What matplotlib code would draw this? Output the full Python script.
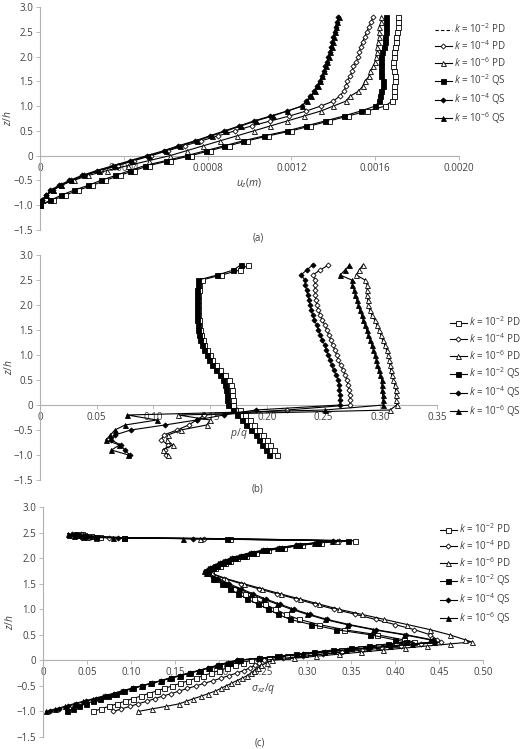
import matplotlib
matplotlib.use("Agg")
import matplotlib.pyplot as plt
from matplotlib.lines import Line2D
from matplotlib.ticker import FuncFormatter

plt.rcParams['font.family'] = ['Open Sans', 'DejaVu Sans']
plt.rcParams['mathtext.fontset'] = 'custom'
plt.rcParams['mathtext.rm'] = 'Open Sans'
plt.rcParams['mathtext.it'] = 'Open Sans:italic'

# ---------------- data ----------------
series_labels = [r'$k$ = 10$^{-2}$ PD', r'$k$ = 10$^{-4}$ PD', r'$k$ = 10$^{-6}$ PD',
                 r'$k$ = 10$^{-2}$ QS', r'$k$ = 10$^{-4}$ QS', r'$k$ = 10$^{-6}$ QS']

# depth grid shared by panels (a) and (b)
z_ab = [-1.0, -0.9, -0.8, -0.7, -0.6, -0.5, -0.4, -0.3, -0.2, -0.1,
        0.0, 0.1, 0.2, 0.3, 0.4, 0.5, 0.6, 0.7, 0.8, 0.9,
        1.0, 1.1, 1.2, 1.3, 1.4, 1.5, 1.6, 1.7, 1.8, 1.9,
        2.0, 2.1, 2.2, 2.3, 2.4, 2.5, 2.6, 2.7, 2.8]

# (a) vertical displacement u_z (m)
uz_pd2 = [0.0, 0.00006, 0.00012, 0.00018, 0.00025, 0.00031, 0.00038, 0.00045, 0.00052, 0.00062,
          0.00072, 0.00081, 0.0009, 0.00099, 0.00109, 0.0012, 0.00129, 0.00138, 0.00147, 0.00156,
          0.001647, 0.00168, 0.001688, 0.00169, 0.001692, 0.001694, 0.001695, 0.00169, 0.001687, 0.001687,
          0.00169, 0.001692, 0.001695, 0.0017, 0.0017, 0.001705, 0.001708, 0.00171, 0.00171]
uz_pd4 = [0.0, 0.00001, 0.00003, 0.00006, 0.0001, 0.00015, 0.00021, 0.00029, 0.00037, 0.00045,
          0.00053, 0.00061, 0.00069, 0.00077, 0.00085, 0.00093, 0.00101, 0.0011, 0.00119, 0.00127,
          0.00134, 0.0014, 0.00143, 0.00145, 0.00146, 0.001465, 0.00148, 0.00149, 0.001495, 0.00151,
          0.00152, 0.001525, 0.00153, 0.00154, 0.00155, 0.00156, 0.00157, 0.00158, 0.00159]
uz_pd6 = [0.0, 0.00001, 0.00003, 0.00006, 0.0001, 0.00016, 0.00023, 0.00032, 0.00042, 0.00052,
          0.00062, 0.0007, 0.00078, 0.00086, 0.00094, 0.00102, 0.0011, 0.00118, 0.00126, 0.00134,
          0.0014, 0.00146, 0.00148, 0.00152, 0.00154, 0.00155, 0.00157, 0.001575, 0.00159, 0.0016,
          0.001605, 0.00161, 0.00161, 0.001615, 0.00162, 0.00162, 0.00162, 0.00163, 0.00163]
uz_qs2 = [0.0, 0.00005, 0.0001, 0.00016, 0.00023, 0.00029, 0.00036, 0.00043, 0.0005, 0.0006,
          0.0007, 0.00079, 0.00088, 0.00097, 0.00107, 0.00118, 0.00127, 0.00136, 0.00145, 0.00153,
          0.0016, 0.00162, 0.001623, 0.00163, 0.001636, 0.001635, 0.00163, 0.00163, 0.001628, 0.00163,
          0.00163, 0.001633, 0.00164, 0.001645, 0.001647, 0.00165, 0.00165, 0.001652, 0.001652]
uz_qs4 = [0.0, 0.00001, 0.00003, 0.00005, 0.00009, 0.00014, 0.0002, 0.00027, 0.00035, 0.00043,
          0.00051, 0.00059, 0.00066, 0.00074, 0.00081, 0.00088, 0.00095, 0.00102, 0.0011, 0.00118,
          0.00125, 0.00127, 0.00129, 0.00131, 0.00132, 0.001335, 0.001345, 0.001355, 0.001362, 0.00137,
          0.001377, 0.001384, 0.00139, 0.001396, 0.0014, 0.001408, 0.001413, 0.001418, 0.001424]
uz_qs6 = [0.0, 0.00001, 0.00003, 0.00006, 0.0001, 0.00015, 0.00021, 0.00028, 0.00036, 0.00044,
          0.00052, 0.0006, 0.00067, 0.00075, 0.00082, 0.00089, 0.00096, 0.00103, 0.00111, 0.00118,
          0.00125, 0.001275, 0.001295, 0.001312, 0.001325, 0.001338, 0.001348, 0.001357, 0.001364, 0.001372,
          0.001379, 0.001386, 0.001392, 0.001398, 0.001403, 0.00141, 0.001415, 0.00142, 0.001426]

# (b) pore pressure p/q
p_pd2 = [0.209, 0.206, 0.203, 0.200, 0.197, 0.193, 0.189, 0.185, 0.181, 0.176,
         0.1705, 0.170, 0.1695, 0.169, 0.168, 0.1665, 0.1635, 0.159, 0.1555, 0.152,
         0.1495, 0.147, 0.145, 0.1435, 0.142, 0.141, 0.1405, 0.140, 0.1395, 0.1395,
         0.1395, 0.1395, 0.1395, 0.140, 0.1405, 0.1426, 0.160, 0.1764, 0.1837]
p_pd4 = [0.111, 0.110, 0.113, 0.107, 0.109, 0.121, 0.131, 0.138, 0.145, 0.2176,
         0.2734, 0.2734, 0.273, 0.2725, 0.2715, 0.2705, 0.269, 0.267, 0.265, 0.263,
         0.2616, 0.2598, 0.258, 0.2562, 0.2545, 0.2528, 0.251, 0.249, 0.247, 0.2455,
         0.244, 0.2432, 0.2428, 0.2425, 0.2425, 0.2425, 0.2405, 0.247, 0.2543]
p_pd6 = [0.113, 0.108, 0.117, 0.112, 0.113, 0.124, 0.147, 0.150, 0.122, 0.3086,
         0.3145, 0.3142, 0.314, 0.3135, 0.3128, 0.3116, 0.310, 0.3092, 0.3085, 0.308,
         0.3072, 0.3055, 0.304, 0.302, 0.3005, 0.2992, 0.297, 0.295, 0.2925, 0.2905,
         0.2896, 0.289, 0.2885, 0.2885, 0.2885, 0.2866, 0.2787, 0.2815, 0.2845]
p_qs2 = [0.202, 0.199, 0.196, 0.193, 0.190, 0.186, 0.182, 0.178, 0.174, 0.170,
         0.166, 0.165, 0.1646, 0.164, 0.163, 0.1617, 0.159, 0.155, 0.152, 0.149,
         0.147, 0.145, 0.143, 0.141, 0.140, 0.1396, 0.139, 0.1385, 0.138, 0.138,
         0.1381, 0.138, 0.138, 0.1385, 0.139, 0.1396, 0.1564, 0.1705, 0.177]
p_qs4 = [0.079, 0.075, 0.071, 0.063, 0.066, 0.080, 0.110, 0.138, 0.162, 0.190,
         0.2646, 0.2646, 0.2646, 0.264, 0.2635, 0.263, 0.261, 0.259, 0.257, 0.2555,
         0.2543, 0.2525, 0.251, 0.249, 0.2472, 0.2455, 0.2438, 0.242, 0.2405, 0.239,
         0.2381, 0.237, 0.236, 0.235, 0.234, 0.2337, 0.2299, 0.2352, 0.2404]
p_qs6 = [0.078, 0.063, 0.070, 0.058, 0.062, 0.066, 0.075, 0.103, 0.077, 0.251,
         0.3027, 0.3025, 0.302, 0.3018, 0.3015, 0.3013, 0.300, 0.2985, 0.2975, 0.2965,
         0.2954, 0.294, 0.2925, 0.291, 0.2895, 0.288, 0.2865, 0.285, 0.2835, 0.282,
         0.2807, 0.2795, 0.278, 0.277, 0.2755, 0.2748, 0.2646, 0.269, 0.2728]

# (c) shear stress sigma_xz/q, on its own depth grid
z_c = [-1.0, -0.95, -0.9, -0.85, -0.8, -0.75, -0.7, -0.65, -0.6, -0.55, -0.5,
       -0.45, -0.4, -0.35, -0.3, -0.25, -0.2, -0.15, -0.1, -0.05, 0.0,
       0.04, 0.08, 0.12, 0.16, 0.2, 0.24, 0.28, 0.32, 0.36,
       0.4, 0.5, 0.6, 0.7, 0.8, 0.9, 1.0, 1.1, 1.2, 1.3, 1.4, 1.5, 1.6, 1.7,
       1.75, 1.8, 1.85, 1.9, 1.95, 2.0, 2.05, 2.1, 2.15, 2.2, 2.25, 2.3,
       2.34, 2.38, 2.40, 2.42, 2.44, 2.46, 2.48]
s_pd2 = [0.057, 0.066, 0.075, 0.084, 0.093, 0.102, 0.111, 0.120, 0.129, 0.138, 0.147,
         0.156, 0.165, 0.174, 0.182, 0.191, 0.200, 0.209, 0.218, 0.227, 0.236,
         0.257, 0.277, 0.298, 0.319, 0.339, 0.360, 0.381, 0.401, 0.422,
         0.410, 0.380, 0.342, 0.314, 0.291, 0.276, 0.264, 0.252, 0.240, 0.229, 0.218, 0.207, 0.196, 0.188,
         0.191, 0.196, 0.201, 0.207, 0.213, 0.221, 0.231, 0.242, 0.256, 0.274, 0.294, 0.316,
         0.355, 0.213, 0.092, 0.065, 0.055, 0.047, 0.044]
s_pd4 = [0.080, 0.089, 0.099, 0.108, 0.118, 0.127, 0.136, 0.146, 0.155, 0.164, 0.174,
         0.183, 0.193, 0.202, 0.211, 0.220, 0.228, 0.235, 0.241, 0.246, 0.251,
         0.273, 0.296, 0.318, 0.340, 0.363, 0.385, 0.407, 0.430, 0.452,
         0.448, 0.440, 0.422, 0.400, 0.378, 0.355, 0.331, 0.309, 0.288, 0.266, 0.245, 0.225, 0.206, 0.190,
         0.189, 0.194, 0.199, 0.205, 0.211, 0.219, 0.229, 0.240, 0.254, 0.272, 0.292, 0.314,
         0.336, 0.183, 0.075, 0.058, 0.050, 0.046, 0.043]
s_pd6 = [0.108, 0.124, 0.140, 0.155, 0.163, 0.171, 0.180, 0.188, 0.196, 0.202, 0.208,
         0.214, 0.220, 0.226, 0.232, 0.236, 0.240, 0.244, 0.248, 0.254, 0.260,
         0.285, 0.310, 0.336, 0.361, 0.386, 0.411, 0.436, 0.462, 0.487,
         0.480, 0.462, 0.440, 0.414, 0.388, 0.362, 0.336, 0.314, 0.292, 0.270, 0.249, 0.228, 0.208, 0.192,
         0.187, 0.192, 0.197, 0.203, 0.209, 0.217, 0.227, 0.238, 0.252, 0.270, 0.290, 0.312,
         0.334, 0.178, 0.060, 0.050, 0.044, 0.040, 0.038]
s_qs2 = [0.027, 0.034, 0.041, 0.049, 0.057, 0.065, 0.074, 0.083, 0.092, 0.102, 0.112,
         0.123, 0.134, 0.145, 0.156, 0.167, 0.178, 0.189, 0.200, 0.212, 0.224,
         0.245, 0.266, 0.287, 0.308, 0.329, 0.350, 0.371, 0.392, 0.413,
         0.400, 0.372, 0.333, 0.305, 0.281, 0.267, 0.256, 0.244, 0.232, 0.222, 0.212, 0.203, 0.193, 0.186,
         0.188, 0.193, 0.198, 0.204, 0.210, 0.218, 0.228, 0.239, 0.253, 0.271, 0.291, 0.313,
         0.347, 0.209, 0.092, 0.060, 0.048, 0.040, 0.038]
s_qs4 = [0.008, 0.018, 0.028, 0.038, 0.049, 0.060, 0.070, 0.081, 0.091, 0.102, 0.113,
         0.124, 0.134, 0.145, 0.156, 0.167, 0.177, 0.188, 0.199, 0.210, 0.221,
         0.246, 0.271, 0.296, 0.321, 0.346, 0.371, 0.396, 0.421, 0.446,
         0.443, 0.413, 0.378, 0.348, 0.323, 0.303, 0.285, 0.269, 0.253, 0.239, 0.225, 0.211, 0.199, 0.188,
         0.185, 0.190, 0.195, 0.201, 0.207, 0.215, 0.225, 0.236, 0.250, 0.268, 0.288, 0.310,
         0.330, 0.170, 0.085, 0.055, 0.042, 0.036, 0.033]
s_qs6 = [0.003, 0.014, 0.025, 0.035, 0.046, 0.057, 0.068, 0.079, 0.089, 0.100, 0.111,
         0.122, 0.133, 0.143, 0.154, 0.165, 0.176, 0.187, 0.197, 0.208, 0.219,
         0.244, 0.269, 0.294, 0.319, 0.344, 0.369, 0.394, 0.419, 0.444,
         0.440, 0.410, 0.375, 0.345, 0.320, 0.300, 0.282, 0.266, 0.250, 0.236, 0.222, 0.208, 0.196, 0.185,
         0.183, 0.188, 0.193, 0.199, 0.205, 0.213, 0.223, 0.234, 0.248, 0.266, 0.286, 0.308,
         0.328, 0.159, 0.080, 0.045, 0.035, 0.030, 0.028]

y_ticks = [-1.5, -1.0, -0.5, 0.0, 0.5, 1.0, 1.5, 2.0, 2.5, 3.0]
xticks_a = [0, 0.0004, 0.0008, 0.0012, 0.0016, 0.0020]
xticks_b = [0, 0.05, 0.10, 0.15, 0.20, 0.25, 0.30, 0.35]
xticks_c = [0, 0.05, 0.10, 0.15, 0.20, 0.25, 0.30, 0.35, 0.40, 0.45, 0.50]

# ---------------- style ----------------
markers = ['s', 'D', '^', 's', 'D', '^']
faces = ['white', 'white', 'white', 'black', 'black', 'black']
msizes = [3.6, 2.6, 3.6, 3.6, 2.6, 3.6]
GRAY = '#b0b0b0'
TXT = '#404040'


def fmt_y(v, pos):
    if abs(v) < 1e-9:
        return '0'
    return f'{v:.1f}'.replace('-', '\u2212')


def make_fmt(nd):
    def f(v, pos):
        if abs(v) < 1e-12:
            return '0'
        return f'{v:.{nd}f}'
    return f


def handle(i, dashed=False):
    if dashed:
        return Line2D([], [], color='black', lw=0.8, ls=(0, (3, 2)))
    return Line2D([], [], color='black', lw=0.8, marker=markers[i], mfc=faces[i],
                  mec='black', mew=0.6, ms=msizes[i])


def draw(ax, z, data, xmax, xticks, nd, xlabel, ylab_x):
    for i, xs in enumerate(data):
        ax.plot(xs, z, color='black', lw=0.8, marker=markers[i], mfc=faces[i],
                mec='black', mew=0.6, ms=msizes[i], zorder=3 + i)
    ax.set_xlim(0, xmax)
    ax.set_ylim(-1.5, 3.0)
    ax.set_yticks(y_ticks)
    ax.set_xticks(xticks)
    ax.yaxis.set_major_formatter(FuncFormatter(fmt_y))
    ax.xaxis.set_major_formatter(FuncFormatter(make_fmt(nd)))
    for s in ['top', 'right']:
        ax.spines[s].set_visible(False)
    ax.spines['bottom'].set_position(('data', 0))
    for s in ['left', 'bottom']:
        ax.spines[s].set_color(GRAY)
        ax.spines[s].set_linewidth(0.8)
    ax.tick_params(direction='out', length=3, width=0.6, color=GRAY,
                   labelsize=7, labelcolor=TXT, pad=2)
    ax.set_xlabel(xlabel, fontsize=7.5, color=TXT, labelpad=2)
    ax.set_ylabel(r'$z/h$', fontsize=7.5, color=TXT)
    ax.yaxis.set_label_coords(ylab_x, 0.5)
    ax.patch.set_visible(False)


W, H = 520, 749
fig = plt.figure(figsize=(W / 100, H / 100), dpi=100)

ax_a = fig.add_axes([40 / W, 1 - 230 / H, 419 / W, 223 / H])
ax_b = fig.add_axes([40 / W, 1 - 480 / H, 397 / W, 225 / H])
ax_c = fig.add_axes([43 / W, 1 - 737 / H, 440 / W, 230 / H])

draw(ax_a, z_ab, [uz_pd2, uz_pd4, uz_pd6, uz_qs2, uz_qs4, uz_qs6], 0.0020, xticks_a, 4,
     r'$u_z$($m$)', -0.062)
draw(ax_b, z_ab, [p_pd2, p_pd4, p_pd6, p_qs2, p_qs4, p_qs6], 0.35, xticks_b, 2,
     r'$p/q$', -0.062)
draw(ax_c, z_c, [s_pd2, s_pd4, s_pd6, s_qs2, s_qs4, s_qs6], 0.50, xticks_c, 2,
     r'$\sigma_{xz}/q$', -0.062)

leg_kw = dict(loc='center left', frameon=False, fontsize=7, handlelength=1.7,
              handletextpad=0.25, labelspacing=0.3, borderpad=0, borderaxespad=0,
              labelcolor=TXT)
fig.legend([handle(0, dashed=True)] + [handle(i) for i in range(1, 6)], series_labels,
           bbox_to_anchor=(435 / W, 1 - 74 / H), **leg_kw)
fig.legend([handle(i) for i in range(6)], series_labels,
           bbox_to_anchor=(450 / W, 1 - 367 / H), **leg_kw)
fig.legend([handle(i) for i in range(6)], series_labels,
           bbox_to_anchor=(440 / W, 1 - 574 / H), **leg_kw)

fig.text(258 / W, 1 - 238 / H, '(a)', ha='center', va='center', fontsize=7, color=TXT)
fig.text(258 / W, 1 - 489 / H, '(b)', ha='center', va='center', fontsize=7, color=TXT)
fig.text(260 / W, 1 - 743 / H, '(c)', ha='center', va='center', fontsize=7, color=TXT)

fig.savefig('out.png', dpi=100)
